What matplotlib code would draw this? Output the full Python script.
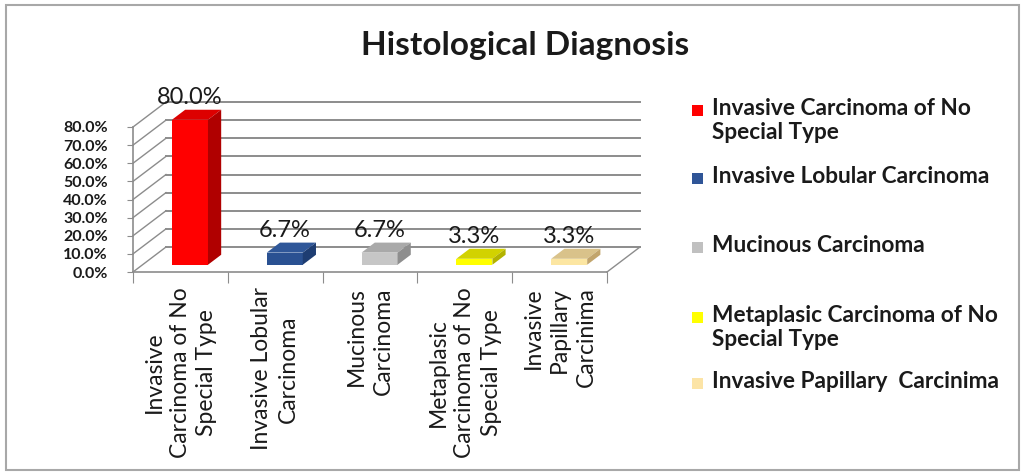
import matplotlib
matplotlib.use("Agg")
import matplotlib.pyplot as plt
from matplotlib.patches import Rectangle, Polygon

plt.rcParams['font.family'] = ['Lato', 'DejaVu Sans']

# data
categories = ["Invasive Carcinoma of No Special Type", "Invasive Lobular Carcinoma",
              "Mucinous Carcinoma", "Metaplasic Carcinoma of No Special Type",
              "Invasive Papillary  Carcinima"]
tick_labels = ["Invasive\nCarcinoma of No\nSpecial Type", "Invasive Lobular\nCarcinoma",
               "Mucinous\nCarcinoma", "Metaplasic\nCarcinoma of No\nSpecial Type",
               "Invasive\nPapillary\nCarcinima"]
legend_labels = ["Invasive Carcinoma of No\nSpecial Type", "Invasive Lobular Carcinoma",
                 "Mucinous Carcinoma", "Metaplasic Carcinoma of No\nSpecial Type",
                 "Invasive Papillary  Carcinima"]
values = [80.0, 6.7, 6.7, 3.3, 3.3]
yticks = [0, 10, 20, 30, 40, 50, 60, 70, 80]

front_col = ["#FF0000", "#2A5192", "#C6C6C6", "#FFFF00", "#FCE6A2"]
top_col = ["#DD0000", "#2F5799", "#A9A9A9", "#D2D200", "#D9C28A"]
side_col = ["#B00000", "#1E3D72", "#8E8E8E", "#B3B300", "#C2A56C"]
legend_col = ["#FF0000", "#2F5597", "#C0C0C0", "#FFFF00", "#FCE4A6"]

W, H = 1026, 472
fig = plt.figure(figsize=(W / 100, H / 100), dpi=100)

# pixel geometry of the plot area
x0px, x5px = 133, 607
y0px, y80px = 272, 127
pxx = (x5px - x0px) / 5.0
pxy = (y0px - y80px) / 80.0
ax_l, ax_r, ax_t, ax_b = 40, 680, 80, 470
ax = fig.add_axes([ax_l / W, 1 - ax_b / H, (ax_r - ax_l) / W, (ax_b - ax_t) / H])
ax.set_xlim((ax_l - x0px) / pxx, (ax_r - x0px) / pxx)
ax.set_ylim((y0px - ax_b) / pxy, (y0px - ax_t) / pxy)
ax.patch.set_visible(False)

DX = 33 / pxx   # full depth offset
DY = 25 / pxy
f0, bd, bw = 0.29, 0.40, 0.38  # bar depth start, bar depth, bar width
grid_c = "#8C8C8C"
n = len(values)

# back wall gridlines and left wall diagonals
for v in yticks:
    ax.plot([DX, n + DX], [v + DY, v + DY], color=grid_c, lw=1.4, zorder=1)
    ax.plot([0, DX], [v, v + DY], color=grid_c, lw=1.0, zorder=1)
ax.plot([n, n + DX], [0, DY], color=grid_c, lw=1.0, zorder=1)

# bars
for i, v in enumerate(values):
    xl = i + 0.5 - bw / 2 + f0 * DX
    xr = xl + bw
    base = f0 * DY
    top = base + v
    ddx, ddy = bd * DX, bd * DY
    ax.add_patch(Rectangle((xl, base), bw, v, facecolor=front_col[i], edgecolor="none", zorder=3))
    ax.add_patch(Polygon([(xl, top), (xr, top), (xr + ddx, top + ddy), (xl + ddx, top + ddy)],
                         closed=True, facecolor=top_col[i], edgecolor="none", zorder=3))
    ax.add_patch(Polygon([(xr, base), (xr + ddx, base + ddy), (xr + ddx, top + ddy), (xr, top)],
                         closed=True, facecolor=side_col[i], edgecolor="none", zorder=3))
    ax.text((xl + xr) / 2 + ddx / 2 - 0.07, top + ddy + 1.0, f"{v:.1f}%", ha="center", va="bottom",
            fontsize=17, color="#1a1a1a", zorder=4)

# front axes
for s in ["top", "right"]:
    ax.spines[s].set_visible(False)
ax.spines["left"].set_position(("data", 0))
ax.spines["left"].set_bounds(0, 80)
ax.spines["bottom"].set_position(("data", 0))
ax.spines["bottom"].set_bounds(0, n)
for s in ["left", "bottom"]:
    ax.spines[s].set_color(grid_c)
    ax.spines[s].set_linewidth(1.2)

ax.set_yticks(yticks)
ax.set_yticklabels([f"{t:.1f}%" for t in yticks], fontsize=11.5, fontweight="bold", color="#1a1a1a")
ax.tick_params(axis="y", length=4, color=grid_c, pad=14)
ax.set_xticks(range(n + 1))
ax.set_xticklabels([])
ax.tick_params(axis="x", which="major", length=8, color=grid_c)
ax.set_xticks([i + 0.5 for i in range(n)], minor=True)
ax.set_xticklabels(tick_labels, minor=True, rotation=90, fontsize=16.5, color="#1a1a1a",
                   va="top", ha="center", linespacing=1.32)
ax.tick_params(axis="x", which="minor", length=0, pad=11)
aligns = ["center", "center", "right", "center", "right"]
for lab, a in zip(ax.get_xticklabels(minor=True), aligns):
    lab.set_multialignment(a)

# title
fig.text(525 / W, 1 - 46 / H, "Histological Diagnosis", ha="center", va="center",
         fontsize=24, fontweight="bold", color="#1a1a1a")

# legend (drawn by hand to keep the uneven spacing)
leg_y = [110, 178, 247, 317, 383]
for c, lab, y in zip(legend_col, legend_labels, leg_y):
    fig.patches.append(Rectangle((692 / W, 1 - (y + 6) / H), 11 / W, 11 / H,
                                 transform=fig.transFigure, facecolor=c, edgecolor="none"))
    fig.text(712 / W, 1 - (y - 12) / H, lab, ha="left", va="top", fontsize=16.3,
             fontweight="bold", color="#1a1a1a", linespacing=1.17)

# outer border
fig.patches.append(Rectangle((6 / W, 1 - 470 / H), 1013 / W, 465 / H, transform=fig.transFigure,
                             facecolor="none", edgecolor="#A8A8A8", lw=1.5))

fig.savefig("out.png", dpi=100)
